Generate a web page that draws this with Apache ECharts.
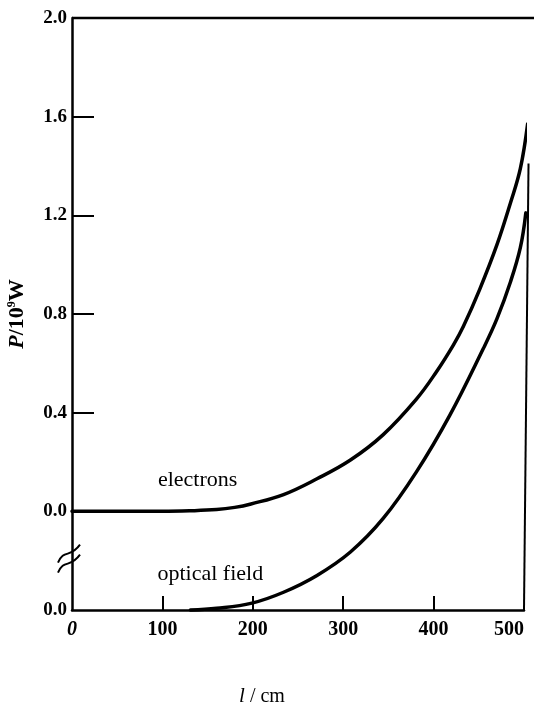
<!DOCTYPE html>
<html>
<head>
<meta charset="utf-8">
<script src="https://cdn.jsdelivr.net/npm/echarts@6/dist/echarts.min.js"></script>
<style>
html,body{margin:0;padding:0;background:#fff;}
#chart{width:534px;height:707px;}
</style>
</head>
<body>
<div id="chart"></div>
<script>
// ---- data ----
const xTickValues = [0, 100, 200, 300, 400, 500];
const xTickLabels = ['0', '100', '200', '300', '400', '500'];
const yTickValues = [-0.4, 0, 0.4, 0.8, 1.2, 1.6, 2.0];
const yTickLabels = ['0.0', '0.0', '0.4', '0.8', '1.2', '1.6', '2.0'];

// electrons: P (10^9 W) vs l (cm), upper scale
const electronsL = [0, 50, 100, 130, 160, 180, 198, 234, 271, 308, 344, 381, 403, 422, 433, 451, 470, 485, 496, 504];
const electronsP = [0, 0, 0, 0.002, 0.007, 0.016, 0.03, 0.068, 0.132, 0.208, 0.31, 0.455, 0.565, 0.675, 0.75, 0.9, 1.08, 1.25, 1.39, 1.57];

// optical field: P vs l, on its own (lower) zero
const opticalL = [131, 160, 199, 234, 271, 308, 344, 381, 418, 455, 470, 485, 496, 502];
const opticalP = [0, 0.007, 0.028, 0.072, 0.14, 0.235, 0.37, 0.56, 0.79, 1.06, 1.18, 1.33, 1.47, 1.61];

const FONT = '"Liberation Serif", "DejaVu Serif", serif';

const chart = echarts.init(document.getElementById('chart'), null, {renderer: 'canvas'});

chart.setOption({
  animation: false,
  backgroundColor: '#fff',
  grid: {left: 72, top: 18, width: 452, height: 592, containLabel: false, outerBoundsMode: 'none'},
  xAxis: {
    type: 'value', min: 0, max: 500, interval: 100,
    axisLine: {show: true, onZero: false, lineStyle: {color: '#000', width: 2.5}},
    axisTick: {show: true, inside: true, length: 14, lineStyle: {color: '#000', width: 2}, customValues: [100, 200, 300, 400]},
    axisLabel: {
      show: true, margin: 10, color: '#000', fontFamily: FONT, fontSize: 20, fontWeight: 'bold',
      customValues: xTickValues,
      alignMaxLabel: 'right',
      formatter: function (v) {
        const i = xTickValues.indexOf(v);
        const s = i >= 0 ? xTickLabels[i] : '';
        return v === 0 ? '{it|' + s + '}' : s;
      },
      rich: {it: {fontStyle: 'italic', fontFamily: FONT, fontSize: 20, fontWeight: 'bold', color: '#000'}}
    },
    splitLine: {show: false},
    name: '{it|l}{n| / cm}',
    nameLocation: 'middle', nameGap: 76,
    nameTextStyle: {
      padding: [0, 72, 0, 0],
      rich: {
        it: {fontStyle: 'italic', fontFamily: FONT, fontSize: 21, color: '#000'},
        n: {fontFamily: FONT, fontSize: 20, color: '#000'}
      }
    }
  },
  yAxis: [{
    type: 'value', min: -0.4, max: 2.0, interval: 0.4,
    axisLine: {show: true, onZero: false, lineStyle: {color: '#000', width: 2.5}},
    axisTick: {show: true, inside: true, length: 22, lineStyle: {color: '#000', width: 2}, customValues: [0.4, 0.8, 1.2, 1.6]},
    axisLabel: {
      show: true, margin: 5, color: '#000', fontFamily: FONT, fontSize: 19, fontWeight: 'bold',
      formatter: function (v) {
        let best = 0;
        yTickValues.forEach(function (t, i) { if (Math.abs(t - v) < Math.abs(yTickValues[best] - v)) best = i; });
        return yTickLabels[best];
      }
    },
    splitLine: {show: false},
    name: '{p|P}{n|/10}{s|9}{n|W}',
    nameLocation: 'middle', nameGap: 44, nameRotate: 90,
    nameTextStyle: {
      rich: {
        p: {fontStyle: 'italic', fontWeight: 'bold', fontFamily: FONT, fontSize: 22, color: '#000'},
        n: {fontWeight: 'bold', fontFamily: FONT, fontSize: 22, color: '#000'},
        s: {fontWeight: 'bold', fontFamily: FONT, fontSize: 12, color: '#000', verticalAlign: 'top', padding: [0, 0, 9, 0]}
      }
    }
  }, {
    type: 'value', min: 0, max: 2.4, show: false
  }],
  series: [{
    name: 'electrons', type: 'line', yAxisIndex: 0, clip: false,
    data: electronsL.map(function (l, i) { return [l, electronsP[i]]; }),
    smooth: 0.4, showSymbol: false, symbol: 'none',
    lineStyle: {color: '#000', width: 3.5, cap: 'round'}
  }, {
    name: 'optical field', type: 'line', yAxisIndex: 1, clip: false,
    data: opticalL.map(function (l, i) { return [l, opticalP[i]]; }),
    smooth: 0.4, showSymbol: false, symbol: 'none',
    lineStyle: {color: '#000', width: 3.5, cap: 'round'}
  }]
});

// ---- frame lines, break marks and curve labels (positioned through the axes) ----
function px(l, p, yi) {
  return chart.convertToPixel({xAxisIndex: 0, yAxisIndex: yi || 0}, [l, p]);
}
const topL = px(0, 2.0), topR = px(500, 2.0);
const rightTop = px(505, 1.41), rightBot = px(500, -0.4);
const brk = px(0, -0.2);
const ax = brk[0], ay = brk[1];
const elLab = px(139, 0.126);
const opLab = px(153, 0.146, 1);

chart.setOption({
  graphic: [
    {type: 'line', shape: {x1: topL[0], y1: topL[1], x2: 534, y2: topR[1]}, style: {stroke: '#000', lineWidth: 2.5}},
    {type: 'line', shape: {x1: rightTop[0], y1: rightTop[1], x2: rightBot[0], y2: rightBot[1]}, style: {stroke: '#000', lineWidth: 2}},
    {type: 'polygon', shape: {points: [[ax - 4, ay - 8], [ax + 4, ay - 12], [ax + 4, ay - 2], [ax - 4, ay + 2]]}, style: {fill: '#fff'}},
    {type: 'bezierCurve', shape: {x1: ax - 14, y1: ay + 2, cpx1: ax - 8, cpy1: ay - 12, cpx2: ax - 2, cpy2: ay - 2, x2: ax + 8, y2: ay - 16}, style: {stroke: '#000', lineWidth: 2, fill: null}},
    {type: 'bezierCurve', shape: {x1: ax - 14, y1: ay + 12, cpx1: ax - 8, cpy1: ay - 2, cpx2: ax - 2, cpy2: ay + 8, x2: ax + 8, y2: ay - 6}, style: {stroke: '#000', lineWidth: 2, fill: null}},
    {type: 'text', x: elLab[0], y: elLab[1], style: {text: 'electrons', font: '22px ' + FONT, fill: '#000', align: 'center', verticalAlign: 'middle'}},
    {type: 'text', x: opLab[0], y: opLab[1], style: {text: 'optical field', font: '22px ' + FONT, fill: '#000', align: 'center', verticalAlign: 'middle'}}
  ]
});
</script>
</body>
</html>
